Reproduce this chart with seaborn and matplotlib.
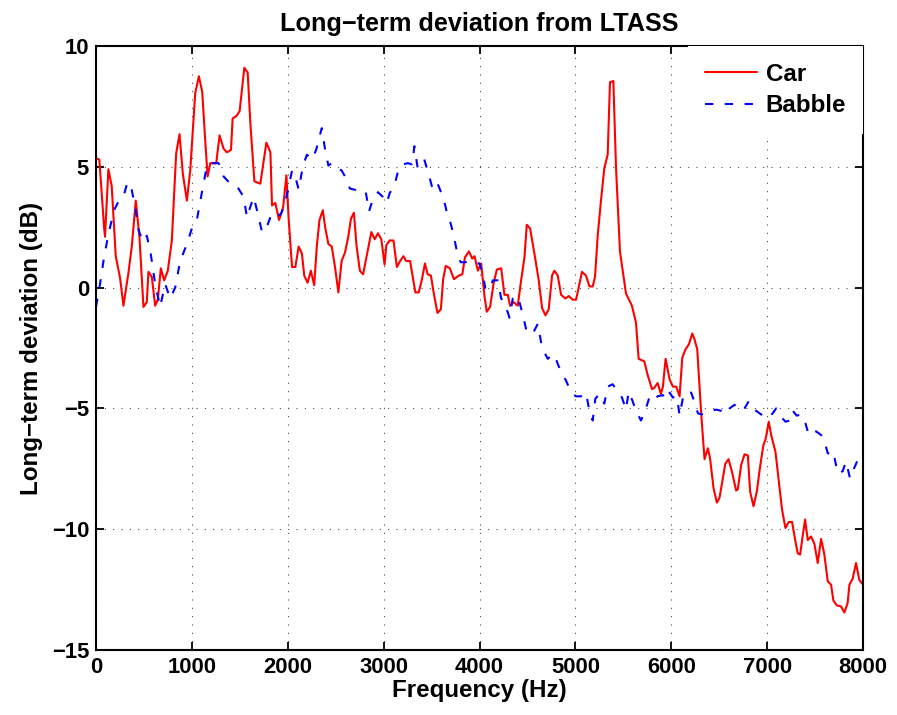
import matplotlib
matplotlib.use("Agg")
import matplotlib.pyplot as plt
import seaborn as sns
import pandas as pd

car_freq = [0, 35, 84, 94, 129, 164, 206, 251, 286, 338, 373, 415, 453, 495, 530, 547, 582, 617, 645, 676,
            711, 749, 791, 836, 871, 906, 948, 983, 1035, 1073, 1108, 1139, 1164, 1192, 1254, 1289, 1331, 1366,
            1408, 1425, 1463, 1498, 1547, 1582, 1610, 1652, 1714, 1777, 1819, 1836, 1871, 1909, 1951, 1986,
            2010, 2045, 2079, 2114, 2148, 2172, 2207, 2241, 2276, 2303, 2331, 2366, 2390, 2424, 2459, 2493,
            2528, 2562, 2597, 2631, 2659, 2690, 2717, 2752, 2786, 2828, 2872, 2907, 2941, 2976, 3010, 3028,
            3062, 3103, 3138, 3172, 3207, 3234, 3276, 3303, 3331, 3366, 3400, 3431, 3459, 3493, 3528, 3562,
            3597, 3621, 3648, 3690, 3734, 3786, 3821, 3848, 3890, 3924, 3948, 3983, 4017, 4052, 4076, 4111,
            4146, 4181, 4226, 4260, 4295, 4319, 4354, 4399, 4434, 4469, 4493, 4528, 4573, 4618, 4653, 4688,
            4722, 4757, 4781, 4816, 4851, 4896, 4931, 4972, 5007, 5042, 5069, 5111, 5146, 5181, 5205, 5233,
            5267, 5302, 5337, 5361, 5396, 5424, 5465, 5528, 5590, 5632, 5660, 5719, 5753, 5799, 5823, 5858,
            5892, 5913, 5941, 5983, 6017, 6052, 6087, 6115, 6149, 6184, 6219, 6243, 6271, 6313, 6347, 6382,
            6406, 6441, 6476, 6503, 6538, 6563, 6597, 6632, 6677, 6694, 6729, 6764, 6799, 6823, 6858, 6892,
            6927, 6962, 6983, 7017, 7042, 7087, 7122, 7156, 7191, 7226, 7260, 7295, 7319, 7344, 7372, 7396,
            7424, 7458, 7493, 7528, 7563, 7597, 7632, 7667, 7691, 7726, 7771, 7806, 7840, 7858, 7892, 7927,
            7962, 8000]
car_db = [5.35, 5.3, 2.5, 2.1, 4.9, 4.2, 1.3, 0.4, -0.75, 0.6, 1.7, 3.6, 2.1, -0.8, -0.6, 0.65, 0.45, -0.75, -0.5, 0.8,
          0.3, 0.7, 1.95, 5.55, 6.35, 4.7, 3.6, 4.85, 8.05, 8.75, 8.1, 6.1, 4.6, 5.15, 5.15, 6.3, 5.75, 5.6,
          5.7, 7.0, 7.1, 7.3, 9.1, 8.9, 6.8, 4.4, 4.3, 6.0, 5.6, 3.4, 3.5, 2.8, 3.3, 4.65,
          2.8, 0.85, 0.85, 1.7, 1.4, 0.5, 0.2, 0.7, 0.1, 1.7, 2.8, 3.2, 2.5, 1.8, 1.7, 0.85,
          -0.2, 1.1, 1.45, 2.1, 2.85, 3.1, 1.75, 0.7, 0.55, 1.4, 2.3, 2.0, 2.25, 2.0, 0.95, 1.75,
          1.95, 1.95, 0.85, 1.1, 1.3, 1.1, 1.1, 0.45, -0.2, -0.2, 0.35, 1.0, 0.55, 0.5, -0.35, -1.05,
          -0.9, 0.35, 0.9, 0.8, 0.35, 0.5, 0.55, 1.25, 1.5, 1.2, 1.3, 0.7, 1.0, -0.35, -1.0, -0.8,
          0.15, 0.75, 0.8, -0.3, -0.3, -0.75, -0.6, -0.75, 0.3, 1.25, 2.6, 2.45, 1.4, 0.3, -0.85, -1.15,
          -0.9, 0.5, 0.7, 0.5, -0.3, -0.45, -0.35, -0.5, -0.5, 0.15, 0.65, 0.5, 0.05, 0.05, 0.45, 2.15,
          3.6, 4.95, 5.5, 8.5, 8.55, 4.95, 1.5, -0.25, -0.75, -1.45, -2.95, -3.05, -3.6, -4.2, -4.15, -3.95,
          -4.4, -4.1, -2.95, -3.8, -4.1, -4.1, -4.5, -2.9, -2.55, -2.35, -1.9, -2.15, -2.55, -5.25, -7.1, -6.65,
          -7.1, -8.3, -8.9, -8.7, -7.9, -7.3, -7.1, -7.6, -8.4, -8.35, -7.35, -6.9, -6.95, -8.45, -9.05, -8.45,
          -7.4, -6.5, -6.3, -5.55, -6.1, -6.8, -8.0, -9.2, -9.95, -9.7, -9.7, -10.5, -11.0, -11.05, -10.25, -9.6,
          -10.45, -10.3, -10.6, -11.4, -10.4, -11.05, -12.15, -12.3, -12.95, -13.15, -13.2, -13.45, -13.05, -12.3, -12.05, -11.4,
          -12.1, -12.3]

babble_freq = [0, 42, 84, 129, 188, 233, 286, 327, 362, 408, 443, 488, 530, 571, 617, 669, 721, 774, 826, 878,
               948, 1000, 1052, 1105, 1157, 1226, 1279, 1331, 1401, 1470, 1540, 1575, 1610, 1645, 1679, 1732,
               1767, 1836, 1889, 1923, 1966, 2000, 2045, 2079, 2114, 2159, 2200, 2252, 2296, 2331, 2355, 2390,
               2424, 2459, 2503, 2562, 2597, 2648, 2700, 2752, 2814, 2848, 2890, 2941, 2993, 3034, 3062, 3114,
               3159, 3200, 3252, 3297, 3321, 3355, 3390, 3424, 3476, 3503, 3545, 3579, 3631, 3666, 3700, 3734,
               3769, 3803, 3855, 3907, 3959, 4000, 4035, 4062, 4104, 4139, 4191, 4226, 4260, 4313, 4347, 4399,
               4451, 4493, 4556, 4608, 4653, 4712, 4764, 4806, 4851, 4903, 4955, 5007, 5059, 5111, 5146, 5181,
               5208, 5250, 5302, 5337, 5389, 5441, 5486, 5528, 5556, 5597, 5632, 5684, 5729, 5771, 5813, 5858,
               5913, 5948, 5983, 6017, 6059, 6087, 6122, 6163, 6208, 6243, 6278, 6313, 6365, 6417, 6469, 6521,
               6556, 6608, 6660, 6694, 6729, 6764, 6809, 6844, 6885, 6938, 6990, 7024, 7059, 7094, 7135, 7191,
               7240, 7267, 7309, 7354, 7399, 7434, 7476, 7510, 7563, 7597, 7632, 7667, 7691, 7736, 7788, 7823,
               7865, 7910, 7955, 8000]
babble_db = [-0.8, 0.15, 1.26, 2.2, 3.2, 3.55, 3.75, 4.35, 4.25, 3.35, 2.4, 1.9, 2.15, 1.4, 0.15, -0.8, 0.15, -0.45, 0.0, 1.1,
             1.8, 2.45, 2.8, 3.95, 5.05, 5.15, 5.15, 4.6, 4.3, 4.2, 3.75, 2.9, 3.35, 3.75, 3.2, 2.3,
             2.35, 3.1, 3.05, 3.0, 3.4, 4.0, 4.85, 4.6, 4.05, 5.05, 5.5, 5.3, 5.7, 6.25, 6.6, 5.7,
             5.05, 5.15, 4.95, 4.85, 4.6, 4.1, 4.05, 3.9, 3.95, 3.15, 3.7, 3.95, 3.75, 3.5, 3.9, 4.25,
             4.95, 5.1, 5.15, 5.1, 5.85, 4.95, 5.1, 5.3, 4.6, 4.2, 4.45, 4.15, 3.6, 3.0, 2.65, 2.1,
             1.4, 1.05, 1.05, 1.1, 1.0, 1.0, 0.55, -0.05, -0.1, 0.3, 0.3, -0.45, -0.6, -1.25, -0.45, -0.35,
             -1.1, -1.85, -1.9, -1.5, -2.5, -2.95, -2.75, -3.05, -3.5, -3.85, -4.35, -4.5, -4.5, -4.35, -5.1, -5.5,
             -4.6, -4.4, -4.8, -4.1, -4.0, -4.3, -4.55, -5.05, -4.3, -4.7, -5.1, -5.5, -5.1, -4.55, -4.7, -4.5,
             -4.45, -4.65, -4.35, -4.55, -4.5, -5.3, -4.55, -4.3, -4.35, -4.75, -5.2, -5.25, -5.2, -5.1, -5.05, -5.1,
             -5.25, -5.0, -4.85, -5.0, -5.1, -5.0, -4.7, -4.9, -5.1, -5.25, -5.4, -5.35, -5.2, -5.0, -5.3, -5.55,
             -5.5, -5.1, -5.3, -5.25, -5.6, -6.1, -6.0, -5.95, -6.1, -6.35, -6.85, -6.9, -6.8, -7.7, -7.6, -7.2,
             -7.9, -7.45, -7.05, -7.2]

x_ticks = [0, 1000, 2000, 3000, 4000, 5000, 6000, 7000, 8000]
y_ticks = [-15, -10, -5, 0, 5, 10]
title_text = "Long\u2212term deviation from LTASS"
xlabel_text = "Frequency (Hz)"
ylabel_text = "Long\u2212term deviation (dB)"

sns.set_style("white")
plt.rcParams['font.family'] = ['Liberation Sans', 'DejaVu Sans']
plt.rcParams['font.weight'] = 'bold'
plt.rcParams['text.color'] = 'black'
plt.rcParams['axes.labelcolor'] = 'black'
plt.rcParams['xtick.color'] = 'black'
plt.rcParams['ytick.color'] = 'black'

fig = plt.figure(figsize=(8.97, 7.15), dpi=100)
ax = fig.add_axes([96 / 897, 1 - 650 / 715, (863 - 96) / 897, (650 - 46) / 715])

car_df = pd.DataFrame({"freq": car_freq, "db": car_db})
bab_df = pd.DataFrame({"freq": babble_freq, "db": babble_db})

sns.lineplot(data=car_df, x="freq", y="db", ax=ax, color="#ff0000", linewidth=1.5,
             label="Car", estimator=None, sort=False)
sns.lineplot(data=bab_df, x="freq", y="db", ax=ax, color="#0000ff", linewidth=1.5,
             label="Babble", estimator=None, sort=False)
ax.lines[1].set_dashes([4, 5.5])

ax.set_xlim(0, 8000)
ax.set_ylim(-15, 10)
ax.set_xticks(x_ticks)
ax.set_yticks(y_ticks)
ax.set_xticklabels([str(t) for t in x_ticks], fontsize=15.8, fontweight='bold', color='black')
ax.set_yticklabels([str(t).replace('-', '\u2212') for t in y_ticks], fontsize=15.8,
                   fontweight='bold', color='black')

ax.grid(True, color='0.25', linestyle=(0, (1, 7)), linewidth=0.75)
ax.tick_params(direction='in', length=6, width=1.3, top=True, right=True,
               bottom=True, left=True, pad=5, colors='black')
for s in ax.spines.values():
    s.set_visible(True)
    s.set_color('black')
    s.set_linewidth(1.5)

ax.set_title(title_text, fontsize=18.2, fontweight='bold', pad=11, color='black')
ax.set_xlabel(xlabel_text, fontsize=17.4, fontweight='bold', labelpad=1, color='black')
ax.set_ylabel(ylabel_text, fontsize=17.4, fontweight='bold', labelpad=6, color='black')

leg = ax.legend(loc='upper right', frameon=True, fancybox=False, framealpha=1,
                edgecolor='none', facecolor='white', borderaxespad=0.0,
                prop={'size': 17.4, 'weight': 'bold'}, handlelength=2.15,
                borderpad=0.7, labelspacing=0.35, handletextpad=0.35)
leg.get_lines()[1].set_dashes([4, 5.5])
for t in leg.get_texts():
    t.set_color('black')

fig.savefig("out.png", dpi=100)
